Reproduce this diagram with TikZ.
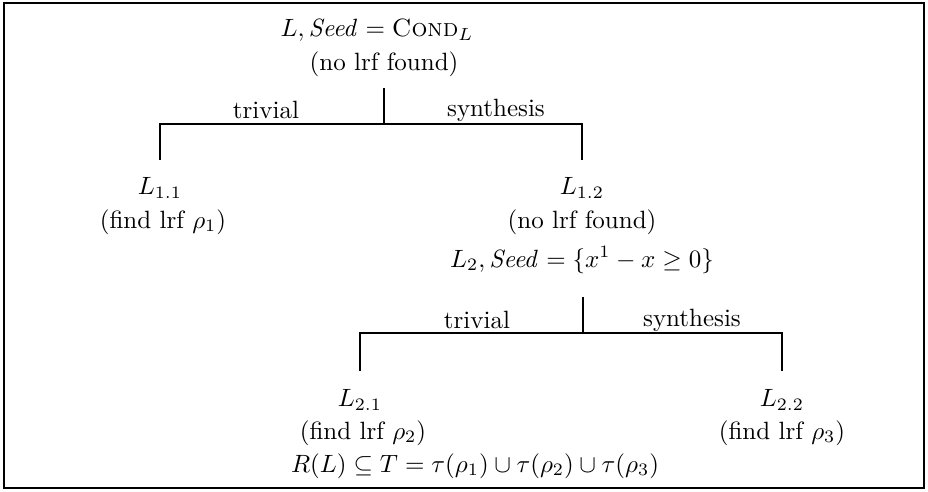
\documentclass[tikz,border=0pt]{standalone}
\usepackage{amsmath,amssymb}
\usepackage{tikz}
\usetikzlibrary{positioning, calc}

\newcommand{\Cnd}{\textsc{Cond}}

\begin{document}
\begin{tikzpicture}[x=0.4pt, y=-0.4pt, font=\normalsize,
    txt/.style={inner sep=0pt, anchor=center},
    branch/.style={line width=1pt}]
  \useasboundingbox (0,0) rectangle (928,492);
  \draw[line width=1pt] (4,3) rectangle (924,488);
  % root
  \node[txt] (root) at (377,30) {$L, \mathit{Seed} = \Cnd_L$};
  \node[txt] (rootnf) at (384,64) {(no lrf found)};
  % first level
  \node[txt] (l11) at (160,188) {$L_{1.1}$};
  \node[txt] (l11f) at (163,222) {(find lrf $\rho_1$)};
  \node[txt] (l12) at (582,188) {$L_{1.2}$};
  \node[txt] (l12nf) at (582,222) {(no lrf found)};
  \node[txt] (l2) at (582,260) {$L_2, \mathit{Seed} = \{x^1 - x \geq 0\}$};
  % second level
  \node[txt] (l21) at (360,400) {$L_{2.1}$};
  \node[txt] (l21f) at (363,433) {(find lrf $\rho_2$)};
  \node[txt] (l22) at (782,400) {$L_{2.2}$};
  \node[txt] (l22f) at (782,433) {(find lrf $\rho_3$)};
  \node[txt] (res) at (475,466) {$R(L) \subseteq T = \tau(\rho_1) \cup \tau(\rho_2) \cup \tau(\rho_3)$};
  % forks
  \coordinate (s1) at (384,88);
  \coordinate (f1) at (384,124);
  \coordinate (t11) at (160,160);
  \coordinate (t12) at (582,160);
  \coordinate (s2) at (583,297);
  \coordinate (f2) at (583,333);
  \coordinate (t21) at (360,371);
  \coordinate (t22) at (782,371);
  \draw[branch] (s1) -- (f1);
  \draw[branch] (t11) |- (f1) -| (t12);
  \draw[branch] (s2) -- (f2);
  \draw[branch] (t21) |- (f2) -| (t22);
  \node[txt] (tr1) at (266,110) {trivial};
  \node[txt] (sy1) at (496,110) {synthesis};
  \node[txt] (tr2) at (477,320) {trivial};
  \node[txt] (sy2) at (692,320) {synthesis};
\end{tikzpicture}
\end{document}
